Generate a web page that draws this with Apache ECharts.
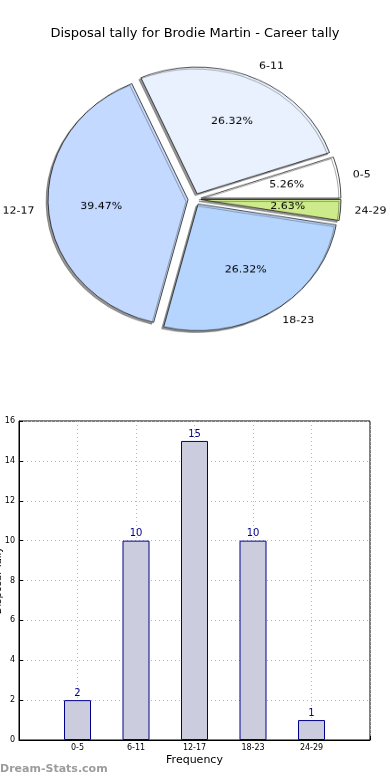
<!DOCTYPE html>
<html>
<head>
<meta charset="utf-8">
<script src="https://cdn.jsdelivr.net/npm/echarts@6/dist/echarts.min.js"></script>
<style>
  html, body { margin: 0; padding: 0; background: #fff; }
  #main { position: absolute; left: 0; top: 0; width: 390px; height: 780px; }
  #pie { position: absolute; left: 0; top: 0; width: 390px; height: 420px;
         transform: scaleY(0.905); transform-origin: 0 0; }
</style>
</head>
<body>
<div id="main"></div>
<div id="pie"></div>
<script>
// ---- data ----
const titleText = 'Disposal tally for Brodie Martin - Career tally';
const categories = ['0-5', '6-11', '12-17', '18-23', '24-29'];
const values = [2, 10, 15, 10, 1];
const sliceColors = ['#ffffff', '#e9f1ff', '#c4d9ff', '#b5d5ff', '#cdeb8b'];
const yTicks = [0, 2, 4, 6, 8, 10, 12, 14, 16];
const xAxisName = 'Frequency';
const yAxisName = 'Disposal Tally';
const watermark = 'Dream-Stats.com';

const FONT = 'DejaVu Sans';

// ---- main chart: title + bars ----
const main = echarts.init(document.getElementById('main'), null, { renderer: 'canvas' });
const xCats = [''].concat(categories, ['']);
const barData = [null].concat(values, [null]);
main.setOption({
  animation: false,
  textStyle: { fontFamily: FONT },
  title: {
    text: titleText, left: 'center', top: 22,
    textStyle: { fontFamily: FONT, fontSize: 13, fontWeight: 'normal', color: '#000' }
  },
  graphic: [{
    type: 'text', left: 0, top: 764,
    style: { text: watermark, fill: '#9c9c9c', font: 'bold 11px "DejaVu Sans"' }
  }],
  grid: { left: 19, right: 20, top: 421, bottom: 40, show: true, borderColor: '#000', borderWidth: 1,
          containLabel: false, outerBoundsMode: 'none' },
  xAxis: {
    type: 'category', data: xCats, boundaryGap: false,
    name: xAxisName, nameLocation: 'middle', nameGap: 15,
    nameTextStyle: { fontFamily: FONT, fontSize: 11, color: '#000' },
    axisLine: { lineStyle: { color: '#000' } },
    axisTick: { show: true, inside: true, length: 4, interval: 0, lineStyle: { color: '#000' } },
    axisLabel: { interval: 0, fontSize: 8, color: '#000', margin: 4, fontFamily: FONT },
    splitLine: { show: true, interval: 0, lineStyle: { color: '#b8b8b8', type: [1, 3] } }
  },
  yAxis: {
    type: 'value', min: yTicks[0], max: yTicks[yTicks.length - 1], interval: yTicks[1] - yTicks[0],
    name: yAxisName, nameLocation: 'middle', nameGap: 16, nameRotate: 90, nameMoveOverlap: false,
    nameTextStyle: { fontFamily: FONT, fontSize: 10, color: '#000' },
    axisLine: { show: true, lineStyle: { color: '#000' } },
    axisTick: { show: true, inside: true, length: 4, lineStyle: { color: '#000' } },
    axisLabel: { fontSize: 8, color: '#000', margin: 4, fontFamily: FONT },
    splitLine: { show: true, lineStyle: { color: '#b8b8b8', type: [1, 3] } }
  },
  series: [{
    type: 'bar', data: barData, barWidth: 27,
    itemStyle: { color: '#ccccdf', borderColor: '#00008b', borderWidth: 1 },
    label: { show: true, position: 'top', distance: 2, color: '#00008b', fontSize: 10, fontFamily: FONT }
  }]
});

// ---- pie chart (vertically squashed via CSS like the elliptical original) ----
const pie = echarts.init(document.getElementById('pie'), null, { renderer: 'canvas' });
const R = 140;
const pieCenter = [194.5, 220];
const OFFSET = 6.5;
const pieData = categories.map((c, i) => ({
  name: c, value: values[i], selected: true,
  itemStyle: { color: sliceColors[i] }
}));
const labelData = categories.map((c, i) => ({ name: c, value: values[i], selected: true }));
pie.setOption({
  animation: false,
  textStyle: { fontFamily: FONT },
  series: [{
    type: 'pie', center: pieCenter, radius: R,
    startAngle: 0, clockwise: false,
    selectedMode: 'multiple', selectedOffset: OFFSET,
    avoidLabelOverlap: false, minShowLabelAngle: 0,
    itemStyle: {
      borderColor: '#1a1a1a', borderWidth: 0.8,
      shadowColor: 'rgba(80,80,80,0.6)', shadowBlur: 0, shadowOffsetX: -2, shadowOffsetY: 2
    },
    emphasis: { disabled: true },
    label: {
      show: true, position: 'outside', formatter: '{b}', fontSize: 11, color: '#000',
      fontFamily: FONT, distanceToLabelLine: 0
    },
    labelLine: { show: false, length: 14, length2: 0 },
    data: pieData
  }, {
    type: 'pie', center: pieCenter, radius: R * 1.2,
    startAngle: 0, clockwise: false, silent: true, z: 5,
    selectedMode: 'multiple', selectedOffset: OFFSET,
    percentPrecision: 2, avoidLabelOverlap: false, minShowLabelAngle: 0,
    itemStyle: { color: 'rgba(0,0,0,0)', borderWidth: 0 },
    emphasis: { disabled: true },
    label: { show: true, position: 'inside', formatter: '{d}%', fontSize: 11, color: '#000', fontFamily: FONT },
    labelLine: { show: false },
    data: labelData
  }]
});
</script>
</body>
</html>
